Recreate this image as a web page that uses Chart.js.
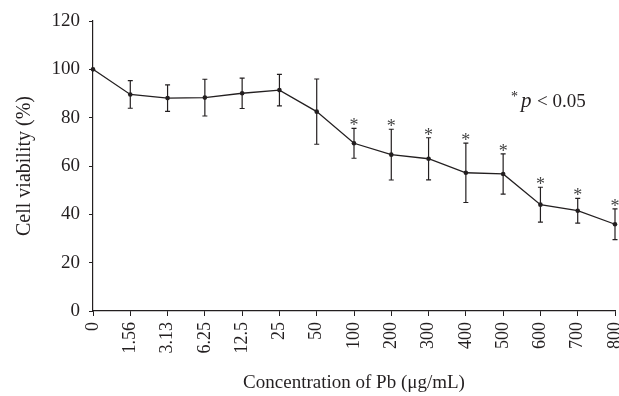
<!DOCTYPE html>
<html>
<head>
<meta charset="utf-8">
<script src="https://cdn.jsdelivr.net/npm/chart.js@4/dist/chart.umd.min.js"></script>
<style>
  html, body { margin: 0; padding: 0; background: #fff; }
  #wrap { width: 619px; height: 396px; }
</style>
</head>
<body>
<div id="wrap"><canvas id="chart"></canvas></div>
<script>
// concentrations of Pb (ug/mL)
const concentrations = ['0', '1.56', '3.13', '6.25', '12.5', '25', '50', '100', '200', '300', '400', '500', '600', '700', '800'];
// mean cell viability (%)
const viability = [100, 89.6, 88.1, 88.3, 90.1, 91.4, 82.5, 69.4, 64.7, 63.0, 57.2, 56.7, 44.0, 41.5, 35.9];
// error bar (+/-)
const errors = [0, 5.7, 5.5, 7.6, 6.3, 6.5, 13.5, 6.2, 10.5, 8.7, 12.3, 8.3, 7.2, 5.1, 6.4];
// p < 0.05 marks
const significant = [false, false, false, false, false, false, false, true, true, true, true, true, true, true, true];
const yTicks = [0, 20, 40, 60, 80, 100, 120];

const ink = '#231f20';
const serif = "'Liberation Serif', 'DejaVu Serif', serif";

const errorBars = {
  id: 'errorBars',
  afterDatasetsDraw(chart) {
    const ctx = chart.ctx;
    const x = chart.scales.x;
    const y = chart.scales.y;
    ctx.save();
    ctx.strokeStyle = ink;
    ctx.lineWidth = 1.2;
    viability.forEach((v, i) => {
      if (!errors[i]) return;
      const px = x.getPixelForValue(i);
      const top = y.getPixelForValue(v + errors[i]);
      const bot = y.getPixelForValue(v - errors[i]);
      ctx.beginPath();
      ctx.moveTo(px, top); ctx.lineTo(px, bot);
      ctx.moveTo(px - 2.5, top); ctx.lineTo(px + 2.5, top);
      ctx.moveTo(px - 2.5, bot); ctx.lineTo(px + 2.5, bot);
      ctx.stroke();
      if (significant[i]) {
        ctx.fillStyle = '#444';
        ctx.font = '18px ' + serif;
        ctx.textAlign = 'center';
        ctx.textBaseline = 'alphabetic';
        ctx.fillText('*', px, top + 3);
      }
    });
    // note: * p < 0.05
    ctx.fillStyle = ink;
    ctx.textBaseline = 'alphabetic';
    ctx.textAlign = 'left';
    ctx.font = '14px ' + serif;
    ctx.fillText('*', 511, 101);
    ctx.font = 'italic 21px ' + serif;
    ctx.fillText('p', 521, 107);
    ctx.font = '19px ' + serif;
    ctx.fillText('< 0.05', 537, 107);
    ctx.restore();
  }
};

new Chart(document.getElementById('chart'), {
  type: 'line',
  data: {
    labels: concentrations,
    datasets: [{
      data: viability,
      borderColor: ink,
      borderWidth: 1.3,
      backgroundColor: ink,
      pointRadius: 2.3,
      pointBorderWidth: 0,
      tension: 0,
      fill: false
    }]
  },
  options: {
    responsive: true,
    maintainAspectRatio: false,
    animation: false,
    layout: { padding: { top: 21, right: 2, left: 0, bottom: 0 } },
    plugins: { legend: { display: false }, tooltip: { enabled: false } },
    scales: {
      x: {
        offset: false,
        grid: { drawOnChartArea: false, color: ink, tickLength: 5, lineWidth: 1 },
        border: { color: ink, width: 1.2 },
        ticks: {
          color: ink, font: { family: serif, size: 18 },
          minRotation: 90, maxRotation: 90, autoSkip: false, padding: 6
        },
        title: {
          display: true, text: 'Concentration of Pb (μg/mL)', color: ink,
          font: { family: serif, size: 19 }, padding: { top: 0, bottom: 2 }
        },
        afterFit(scale) { scale.height = 85; scale.paddingLeft = 0; scale.paddingRight = 0; }
      },
      y: {
        min: 0, max: 120,
        afterBuildTicks(scale) { scale.ticks = yTicks.map(v => ({ value: v })); },
        grid: { drawOnChartArea: false, color: ink, tickLength: 4, lineWidth: 1 },
        border: { color: ink, width: 1.2 },
        ticks: { color: ink, font: { family: serif, size: 19 }, padding: 9 },
        title: {
          display: true, text: 'Cell viability (%)', color: ink,
          font: { family: serif, size: 20 }, padding: { top: 13, bottom: 0 }
        },
        afterFit(scale) { scale.width = 93; scale.paddingTop = 0; scale.paddingBottom = 0; }
      }
    }
  },
  plugins: [errorBars]
});
</script>
</body>
</html>
